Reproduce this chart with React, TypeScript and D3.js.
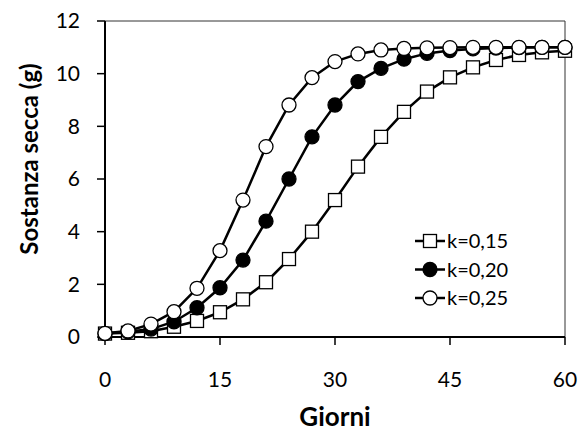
import * as d3 from "d3";
import React from "react";

// days (every 3 days)
const giorni = [0, 3, 6, 9, 12, 15, 18, 21, 24, 27, 30, 33, 36, 39, 42, 45, 48, 51, 54, 57, 60];

// sostanza secca (g)
const k015 = [0.13, 0.16, 0.22, 0.39, 0.61, 0.94, 1.43, 2.08, 2.96, 4.0, 5.2, 6.47, 7.6, 8.55, 9.32, 9.86, 10.24, 10.52, 10.71, 10.81, 10.87];
const k020 = [0.13, 0.2, 0.3, 0.58, 1.11, 1.87, 2.92, 4.4, 6.0, 7.6, 8.81, 9.7, 10.2, 10.55, 10.77, 10.88, 10.94, 10.97, 10.99, 11.0, 11.0];
const k025 = [0.14, 0.23, 0.49, 0.96, 1.85, 3.28, 5.2, 7.23, 8.81, 9.85, 10.46, 10.75, 10.9, 10.96, 10.98, 10.99, 11.0, 11.0, 11.0, 11.0, 11.0];

const legendLabels = ["k=0,15", "k=0,20", "k=0,25"];
const xTicks = [0, 15, 30, 45, 60];
const yTicks = [0, 2, 4, 6, 8, 10, 12];

const series = [
  { name: legendLabels[0], values: k015, marker: "square", fill: "#fff" },
  { name: legendLabels[1], values: k020, marker: "circle", fill: "#000" },
  { name: legendLabels[2], values: k025, marker: "circle", fill: "#fff" },
];

const W = 579;
const H = 433;
const left = 105;
const right = 565;
const top = 21;
const bottom = 337;
const font = "Lato, 'Noto Sans', sans-serif";

function Marker({ type, cx, cy, fill }: { type: string; cx: number; cy: number; fill: string }) {
  if (type === "square") {
    return <rect x={cx - 6.5} y={cy - 6.5} width={13} height={13} fill={fill} stroke="#000" strokeWidth={1.3} />;
  }
  return <circle cx={cx} cy={cy} r={7} fill={fill} stroke="#000" strokeWidth={1.3} />;
}

export default function App() {
  const x = d3.scaleLinear().domain([0, 60]).range([left, right]);
  const y = d3.scaleLinear().domain([0, 12]).range([bottom, top]);
  const line = d3
    .line<number>()
    .x((d, i) => x(giorni[i]))
    .y((d) => y(d));

  return (
    <svg width={W} height={H} style={{ position: "absolute", left: 0, top: 0, background: "#fff" }}>
      {/* frame */}
      <line x1={left} x2={right} y1={top} y2={top} stroke="#333" strokeWidth={1} />
      <line x1={right} x2={right} y1={top} y2={bottom} stroke="#333" strokeWidth={1} />
      <line x1={left} x2={left} y1={top} y2={bottom} stroke="#000" strokeWidth={2} />
      <line x1={left} x2={right} y1={bottom} y2={bottom} stroke="#000" strokeWidth={2} />

      {yTicks.map((t) => (
        <g key={"y" + t}>
          <line x1={left - 8} x2={left} y1={y(t)} y2={y(t)} stroke="#000" strokeWidth={1.5} />
          <text x={80} y={y(t)} dy="0.35em" textAnchor="end" fontFamily={font} fontSize={21}>
            {t}
          </text>
        </g>
      ))}
      {xTicks.map((t) => (
        <g key={"x" + t}>
          <line x1={x(t)} x2={x(t)} y1={bottom} y2={bottom + 8} stroke="#000" strokeWidth={1.5} />
          <text x={x(t)} y={380} dy="0.35em" textAnchor="middle" fontFamily={font} fontSize={21}>
            {t}
          </text>
        </g>
      ))}

      <text x={(left + right) / 2} y={426} textAnchor="middle" fontFamily={font} fontSize={26} fontWeight="bold">
        Giorni
      </text>
      <text
        transform={`translate(30,159) rotate(-90)`}
        dy="0.35em"
        textAnchor="middle"
        fontFamily={font}
        fontSize={24}
        fontWeight="bold"
      >
        Sostanza secca (g)
      </text>

      {series.map((s) => (
        <g key={s.name}>
          <path d={line(s.values) || ""} fill="none" stroke="#000" strokeWidth={2.5} />
          {s.values.map((v, i) => (
            <Marker key={i} type={s.marker} cx={x(giorni[i])} cy={y(v)} fill={s.fill} />
          ))}
        </g>
      ))}

      {/* legend */}
      {series.map((s, i) => {
        const ly = 241 + i * 28.5;
        return (
          <g key={"lg" + s.name}>
            <line x1={415} x2={445} y1={ly} y2={ly} stroke="#000" strokeWidth={2.5} />
            <Marker type={s.marker} cx={430} cy={ly} fill={s.fill} />
            <text x={447} y={ly} dy="0.35em" fontFamily={font} fontSize={20}>
              {s.name}
            </text>
          </g>
        );
      })}
    </svg>
  );
}
